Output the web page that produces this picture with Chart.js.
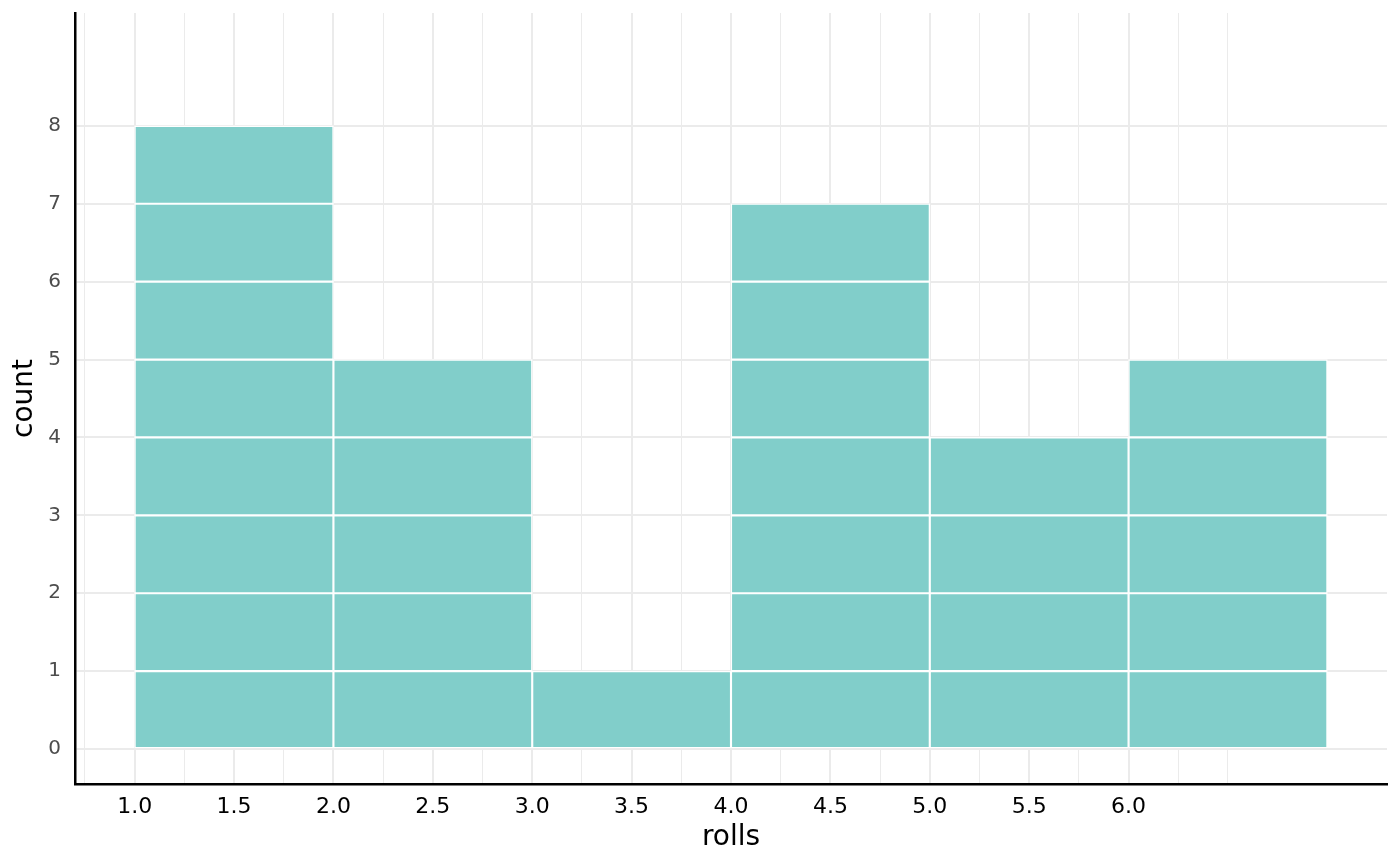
<!DOCTYPE html>
<html>
<head>
<meta charset="utf-8">
<script src="https://cdn.jsdelivr.net/npm/chart.js@4/dist/chart.umd.min.js"></script>
<style>
html,body{margin:0;padding:0;background:#fff;}
#wrap{width:1400px;height:866px;position:relative;}
</style>
</head>
<body>
<div id="wrap"><canvas id="c"></canvas></div>
<script>
// ---- data ----
const binStarts = [1, 2, 3, 4, 5, 6];
const binEnds   = [2, 3, 4, 5, 6, 7];
const counts    = [8, 5, 1, 7, 4, 5];
const xMajorBreaks = [1.0, 1.5, 2.0, 2.5, 3.0, 3.5, 4.0, 4.5, 5.0, 5.5, 6.0];
const xMajorLabels = ['1.0', '1.5', '2.0', '2.5', '3.0', '3.5', '4.0', '4.5', '5.0', '5.5', '6.0'];
const xMinorBreaks = [0.75, 1.25, 1.75, 2.25, 2.75, 3.25, 3.75, 4.25, 4.75, 5.25, 5.75, 6.25, 6.5];
const yBreaks = [0, 1, 2, 3, 4, 5, 6, 7, 8];
const yLabels = ['0', '1', '2', '3', '4', '5', '6', '7', '8'];
const xLimits = [0.7, 7.3];
const yLimits = [-0.45, 9.45];
const xTitle = 'rolls';
const yTitle = 'count';

// ---- build one dataset per count level (unit blocks) ----
const maxCount = Math.max(...counts);
const datasets = [];
for (let k = 1; k <= maxCount; k++) {
  const pts = [];
  binStarts.forEach((s, i) => {
    if (counts[i] >= k) pts.push({ x: (s + binEnds[i]) / 2, y: [k - 1, k] });
  });
  datasets.push({
    data: pts,
    xAxisID: 'xBins',
    yAxisID: 'y',
    backgroundColor: '#81CECA',
    borderColor: '#FFFFFF',
    borderWidth: 1.4,
    borderSkipped: false,
    grouped: false,
    barPercentage: 1,
    categoryPercentage: 1
  });
}

const allXTicks = [...xMinorBreaks, ...xMajorBreaks].sort((a, b) => a - b);

new Chart(document.getElementById('c'), {
  type: 'bar',
  data: { datasets },
  options: {
    responsive: true,
    maintainAspectRatio: false,
    animation: false,
    devicePixelRatio: 1,
    layout: { padding: { top: 13, right: 13, left: 0, bottom: 0 } },
    plugins: { legend: { display: false }, tooltip: { enabled: false } },
    scales: {
      xBins: {
        type: 'linear',
        display: false,
        offset: false,
        grid: { offset: false },
        min: xLimits[0],
        max: xLimits[1],
        ticks: { stepSize: 1, includeBounds: false }
      },
      x: {
        type: 'linear',
        position: 'bottom',
        offset: false,
        min: xLimits[0],
        max: xLimits[1],
        afterBuildTicks: (axis) => { axis.ticks = allXTicks.map(v => ({ value: v })); },
        afterFit: (axis) => { axis.height = 82; axis.paddingLeft = 0; axis.paddingRight = 0; },
        grid: {
          offset: false,
          color: '#EBEBEB',
          lineWidth: (ctx) => (ctx.tick && xMajorBreaks.includes(ctx.tick.value)) ? 2 : 1,
          drawTicks: false
        },
        border: { display: true, color: '#000000', width: 2.5 },
        ticks: {
          autoSkip: false,
          maxRotation: 0,
          minRotation: 0,
          padding: 10,
          color: '#000000',
          font: { family: 'DejaVu Sans', size: 22 },
          callback: (value) => {
            const i = xMajorBreaks.indexOf(value);
            return i >= 0 ? xMajorLabels[i] : '';
          }
        },
        title: {
          display: true,
          text: xTitle,
          color: '#000000',
          font: { family: 'DejaVu Sans', size: 28 },
          padding: { top: 0, bottom: 11 }
        }
      },
      y: {
        type: 'linear',
        position: 'left',
        min: yLimits[0],
        max: yLimits[1],
        afterBuildTicks: (axis) => { axis.ticks = yBreaks.map(v => ({ value: v })); },
        afterFit: (axis) => { axis.width = 75; axis.paddingTop = 0; axis.paddingBottom = 0; },
        grid: { color: '#EBEBEB', lineWidth: 2, drawTicks: false },
        border: { display: true, color: '#000000', width: 2.5 },
        ticks: {
          autoSkip: false,
          padding: 14,
          color: '#4D4D4D',
          font: { family: 'DejaVu Sans', size: 20 },
          callback: (value) => {
            const i = yBreaks.indexOf(value);
            return i >= 0 ? yLabels[i] : '';
          }
        },
        title: {
          display: true,
          text: yTitle,
          color: '#000000',
          font: { family: 'DejaVu Sans', size: 28 },
          padding: { top: 8, bottom: 0 }
        }
      }
    }
  }
});
</script>
</body>
</html>
